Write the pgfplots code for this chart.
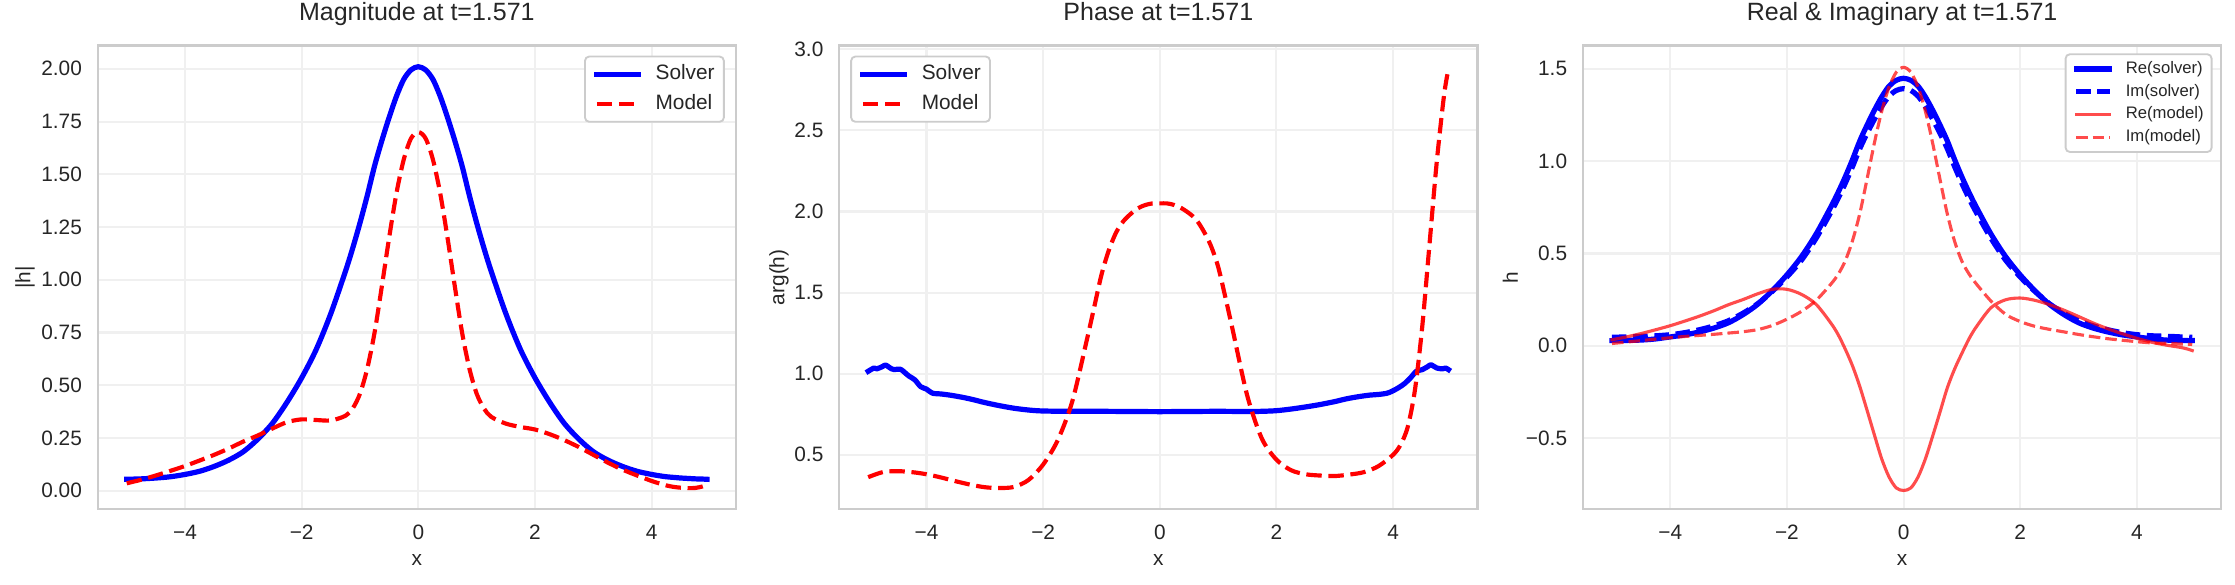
\documentclass[border=0pt]{standalone}
\usepackage{fontspec}
\setmainfont{Liberation Sans}
\usepackage{pgfplots}
\usepackage{pgfplotstable}
\pgfplotsset{compat=1.18}
\definecolor{spine}{gray}{0.8}
\definecolor{gridc}{gray}{0.94}
\definecolor{txt}{gray}{0.15}
\definecolor{mblue}{rgb}{0,0,1}
\definecolor{mred}{rgb}{1,0,0}

\pgfplotstableread{
x      S     M      P      Res    Ims    Rem     Imm
-5     0.054 0.035  0.362  0.028  0.046  0.0327  0.0124
-4.75  0.056 0.052  0.393  0.029  0.048  0.0480  0.0199
-4.5   0.060 0.072  0.399  0.031  0.051  0.0663  0.0280
-4.25  0.066 0.094  0.393  0.037  0.054  0.0868  0.0360
-4     0.077 0.117  0.380  0.048  0.060  0.1087  0.0434
-3.75  0.092 0.143  0.360  0.059  0.071  0.1338  0.0504
-3.5   0.115 0.170  0.337  0.075  0.087  0.1604  0.0562
-3.25  0.145 0.200  0.316  0.096  0.108  0.1900  0.0622
-3     0.185 0.233  0.300  0.125  0.136  0.2226  0.0689
-2.75  0.245 0.262  0.295  0.169  0.177  0.2507  0.0762
-2.5   0.320 0.295  0.302  0.225  0.228  0.2816  0.0877
-2.25  0.420 0.325  0.345  0.299  0.295  0.3059  0.1099
-2     0.535 0.338  0.440  0.384  0.373  0.3058  0.1440
-1.75  0.670 0.335  0.590  0.483  0.464  0.2784  0.1864
-1.5   0.840 0.333  0.830  0.605  0.582  0.2247  0.2457
-1.25  1.040 0.355  1.210  0.750  0.721  0.1245  0.3325
-1.125 1.150 0.390  1.410  0.829  0.797  0.0624  0.3850
-1     1.270 0.460  1.610  0.915  0.880  -0.0180 0.4597
-0.875 1.400 0.580  1.760  1.009  0.971  -0.1091 0.5697
-0.75  1.540 0.750  1.870  1.110  1.068  -0.2210 0.7167
-0.625 1.660 0.970  1.940  1.196  1.151  -0.3502 0.9046
-0.5   1.770 1.200  1.985  1.276  1.227  -0.4829 1.0986
-0.375 1.870 1.410  2.020  1.348  1.296  -0.6122 1.2701
-0.25  1.950 1.570  2.040  1.406  1.352  -0.7100 1.4003
-0.125 1.995 1.670  2.050  1.438  1.383  -0.7700 1.4819
0      2.010 1.700  2.050  1.449  1.393  -0.7839 1.5086
0.125  1.995 1.670  2.050  1.438  1.383  -0.7700 1.4819
0.25   1.950 1.570  2.040  1.406  1.352  -0.7100 1.4003
0.375  1.870 1.410  2.020  1.348  1.296  -0.6122 1.2701
0.5    1.770 1.200  1.990  1.276  1.227  -0.4884 1.0961
0.625  1.660 0.970  1.950  1.196  1.151  -0.3591 0.9011
0.75   1.540 0.750  1.880  1.110  1.068  -0.2282 0.7145
0.875  1.400 0.580  1.790  1.009  0.971  -0.1262 0.5661
1      1.270 0.460  1.660  0.915  0.880  -0.0410 0.4582
1.125  1.150 0.390  1.470  0.829  0.797  0.0392  0.3880
1.25   1.040 0.350  1.270  0.750  0.721  0.1037  0.3343
1.5    0.840 0.318  0.864  0.605  0.582  0.2065  0.2418
1.75   0.670 0.302  0.600  0.483  0.464  0.2492  0.1705
2      0.535 0.290  0.470  0.384  0.373  0.2586  0.1313
2.25   0.420 0.268  0.405  0.299  0.295  0.2463  0.1056
2.5    0.320 0.240  0.380  0.225  0.228  0.2229  0.0890
2.75   0.245 0.207  0.372  0.169  0.177  0.1928  0.0752
3      0.185 0.170  0.369  0.125  0.136  0.1586  0.0613
3.25   0.145 0.133  0.378  0.096  0.108  0.1236  0.0491
3.5    0.115 0.100  0.393  0.075  0.087  0.0924  0.0383
3.75   0.092 0.072  0.430  0.059  0.071  0.0654  0.0300
4      0.077 0.046  0.500  0.048  0.060  0.0404  0.0221
4.125  0.071 0.035  0.560  0.043  0.057  0.0297  0.0186
4.25   0.066 0.025  0.670  0.037  0.054  0.0196  0.0155
4.375  0.063 0.018  0.900  0.034  0.053  0.0112  0.0141
4.5    0.060 0.014  1.290  0.031  0.051  0.0039  0.0135
4.625  0.058 0.012  1.800  0.029  0.050  -0.0027 0.0117
4.75   0.056 0.013  2.310  0.029  0.048  -0.0088 0.0096
4.875  0.055 0.020  2.720  0.028  0.047  -0.0182 0.0082
4.95   0.054 0.027  2.880  0.028  0.046  -0.0261 0.0070
}\datamain

\pgfplotstableread{
x      Q
-5     1.015
-4.9   1.035
-4.85  1.030
-4.75  1.045
-4.7   1.053
-4.6   1.030
-4.55  1.025
-4.45  1.028
-4.35  1.000
-4.3   0.985
-4.2   0.962
-4.1   0.920
-4.0   0.905
-3.9   0.880
-3.75  0.875
-3.6   0.868
-3.5   0.862
-3.35  0.852
-3.2   0.840
-3.0   0.822
-2.75  0.803
-2.5   0.787
-2.25  0.776
-2     0.770
-1.5   0.768
-1     0.768
-0.5   0.767
0      0.766
0.5    0.767
1      0.768
1.5    0.767
1.75   0.768
2      0.772
2.25   0.782
2.5    0.795
2.75   0.810
3.0    0.828
3.2    0.845
3.4    0.858
3.6    0.868
3.75   0.872
3.9    0.880
4.0    0.895
4.1    0.915
4.2    0.940
4.3    0.975
4.4    1.015
4.5    1.025
4.6    1.045
4.65   1.055
4.75   1.035
4.85   1.030
4.9    1.035
4.95   1.025
}\dataphase

\pgfplotsset{
  panel/.style={
    scale only axis, width=306.4pt, height=222.4pt, anchor=south west,
    xmin=-5.4975, xmax=5.4475,
    xtick={-4,-2,0,2,4}, xticklabels={−4,−2,0,2,4},
    grid=major, major grid style={draw=gridc, line width=1pt},
    major tick length=0pt,
    axis line style={draw=spine, line width=1.1pt},
    tick label style={font=\fontsize{10}{12}\selectfont, text=txt, inner sep=0pt},
    xticklabel style={anchor=base, yshift=-14.5pt},
    yticklabel style={anchor=east, xshift=-7.4pt},
    label style={font=\fontsize{10}{12}\selectfont, text=txt},
    xlabel style={at={(axis description cs:0.5,-0.1093)}, anchor=center},
    title style={at={(axis description cs:0.5,1)}, anchor=base, yshift=6pt,
      font=\fontsize{12}{14}\selectfont, text=txt},
    no markers,
    legend cell align=left,
  },
  leg10/.style={
    legend image code/.code={\draw[##1] (0pt,0pt) -- (20pt,0pt);},
    legend style={draw=spine, line width=0.9pt, rounded corners=2pt, fill=white,
      font=\fontsize{10}{12}\selectfont, text=txt,
      inner xsep=4.4pt, inner ysep=3.75pt, row sep=4.4pt, column sep=7pt,
      nodes={inner sep=0pt, text height=7.5pt, text depth=2.2pt}},
  },
  leg8/.style={
    legend image code/.code={\draw[##1] (0pt,0pt) -- (16pt,0pt);},
    legend style={draw=spine, line width=0.9pt, rounded corners=2pt, fill=white,
      font=\fontsize{8}{10}\selectfont, text=txt,
      inner xsep=3.8pt, inner ysep=3.2pt, row sep=3.1pt, column sep=6.6pt,
      nodes={inner sep=0pt, text height=6pt, text depth=1.8pt}},
  },
}

\begin{document}
\begin{tikzpicture}
\useasboundingbox (0,0) rectangle (1072.8pt,280.8pt);

% Panel 1: magnitude
\begin{axis}[panel, leg10, at={(46.9pt,36.5pt)},
  ymin=-0.0867, ymax=2.110,
  ytick={0,0.25,0.5,0.75,1,1.25,1.5,1.75,2},
  yticklabels={0.00,0.25,0.50,0.75,1.00,1.25,1.50,1.75,2.00},
  title={Magnitude at t=1.571}, xlabel={x}, ylabel={|h|},
  ylabel style={at={(axis description cs:-0.1139,0.5)}, anchor=center},
  legend style={at={(1,1)}, anchor=north east, xshift=-5.4pt, yshift=-4.8pt},
]
\addplot[mblue, line width=2.5pt, line cap=rect, line join=round, smooth] table[x=x,y=S]{\datamain};
\addlegendentry{Solver}
\addplot[mred, line width=2pt, dash pattern=on 7.4pt off 3.2pt, line join=round, smooth] table[x=x,y=M]{\datamain};
\addlegendentry{Model}
\end{axis}

% Panel 2: phase
\begin{axis}[panel, leg10, at={(402.8pt,36.5pt)},
  ymin=0.166, ymax=3.023,
  ytick={0.5,1,1.5,2,2.5,3},
  yticklabels={0.5,1.0,1.5,2.0,2.5,3.0},
  title={Phase at t=1.571}, xlabel={x}, ylabel={arg(h)},
  ylabel style={at={(axis description cs:-0.0944,0.5)}, anchor=center},
  legend style={at={(0,1)}, anchor=north west, xshift=5.3pt, yshift=-4.8pt},
]
\addplot[mblue, line width=2.5pt, line cap=rect, line join=round, smooth] table[x=x,y=Q]{\dataphase};
\addlegendentry{Solver}
\addplot[mred, line width=2pt, dash pattern=on 7.4pt off 3.2pt, line join=round, smooth] table[x=x,y=P]{\datamain};
\addlegendentry{Model}
\end{axis}

% Panel 3: real & imaginary
\begin{axis}[panel, leg8, at={(759.8pt,36.5pt)},
  ymin=-0.884, ymax=1.626,
  ytick={-0.5,0,0.5,1,1.5},
  yticklabels={−0.5,0.0,0.5,1.0,1.5},
  title={Real \& Imaginary at t=1.571}, xlabel={x}, ylabel={h},
  ylabel style={at={(axis description cs:-0.1136,0.5)}, anchor=center},
  legend style={at={(1,1)}, anchor=north east, xshift=-4.2pt, yshift=-3.7pt},
]
\addplot[mblue, line width=2.5pt, line cap=rect, line join=round, smooth] table[x=x,y=Res]{\datamain};
\addlegendentry{Re(solver)}
\addplot[mblue, line width=2.5pt, dash pattern=on 7pt off 3.2pt, line join=round, smooth] table[x=x,y=Ims]{\datamain};
\addlegendentry{Im(solver)}
\addplot[mred, opacity=0.7, line width=1.5pt, line cap=rect, line join=round, smooth] table[x=x,y=Rem]{\datamain};
\addlegendentry{Re(model)}
\addplot[mred, opacity=0.7, line width=1.5pt, dash pattern=on 5.55pt off 2.4pt, line join=round, smooth] table[x=x,y=Imm]{\datamain};
\addlegendentry{Im(model)}
\end{axis}
\end{tikzpicture}
\end{document}
